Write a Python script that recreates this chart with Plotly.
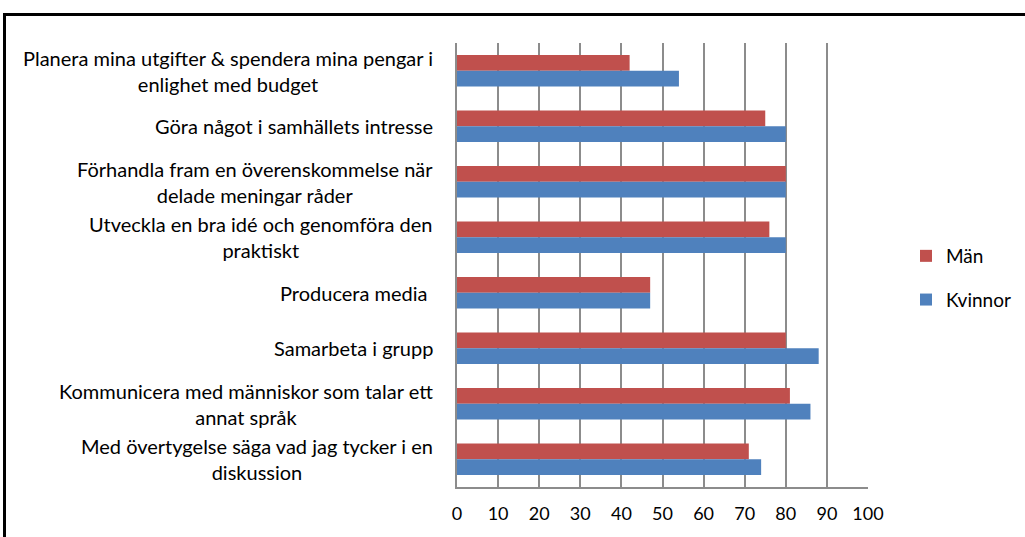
import plotly.graph_objects as go

categories = [
    "Planera mina utgifter & spendera mina pengar i<br>enlighet med budget",
    "Göra något i samhällets intresse",
    "Förhandla fram en överenskommelse när<br>delade meningar råder",
    "Utveckla en bra idé och genomföra den<br>praktiskt",
    "Producera media ",
    "Samarbeta i grupp",
    "Kommunicera med människor som talar ett<br>annat språk",
    "Med övertygelse säga vad jag tycker i en<br>diskussion",
]
man = [42, 75, 80, 76, 47, 80, 81, 71]
kvinnor = [54, 80, 80, 80, 47, 88, 86, 74]
tick_vals = [0, 10, 20, 30, 40, 50, 60, 70, 80, 90, 100]

FONT = "Lato"
ids = list(range(len(categories)))

fig = go.Figure()
fig.add_trace(go.Bar(y=ids, x=man, orientation="h", name="Män",
                     marker=dict(color="#C0504D", line=dict(width=0)),
                     legendgroup="m"))
fig.add_trace(go.Bar(y=ids, x=kvinnor, orientation="h", name="Kvinnor",
                     marker=dict(color="#4F81BD", line=dict(width=0)),
                     legendgroup="k"))

for i, c in zip(ids, categories):
    fig.add_annotation(x=0, xref="paper", y=i, yref="y", text=c,
                       xanchor="right", align="center", showarrow=False,
                       xshift=-22, font=dict(family=FONT, size=20, color="#000"))

L, R, T, B = 457, 868, 43, 487
W, H = 1025, 537
pw, ph = R - L, B - T

fig.update_layout(
    width=W, height=H,
    margin=dict(l=L, r=W - R, t=T, b=H - B),
    paper_bgcolor="white", plot_bgcolor="white",
    barmode="group", bargap=0.436, bargroupgap=0,
    font=dict(family=FONT, size=18, color="#000"),
    legend=dict(xref="container", x=906 / W, y=(B - 278) / ph,
                xanchor="left", yanchor="middle",
                font=dict(family=FONT, size=19), tracegroupgap=16,
                itemwidth=30, traceorder="grouped"),
    xaxis=dict(range=[0, 100], tickvals=tick_vals, showgrid=True,
               gridcolor="#8C8C8C", gridwidth=2, showline=True,
               linecolor="#8C8C8C", linewidth=2, zeroline=False,
               ticks="", ticklabelstandoff=9, fixedrange=True,
               tickfont=dict(family=FONT, size=18)),
    yaxis=dict(range=[len(categories) - 0.5, -0.5], showticklabels=False,
               showgrid=False, showline=True, linecolor="#8C8C8C",
               linewidth=2, zeroline=False, ticks=""),
    shapes=[dict(type="rect", xref="paper", yref="paper",
                 x0=(4.5 - L) / pw, x1=(1060 - L) / pw,
                 y0=(B - 570) / ph, y1=(B - 14.5) / ph,
                 line=dict(color="black", width=3), layer="above")],
)

fig.write_html("out.html", config={"displayModeBar": False},
               post_script="document.body.style.margin='0px';document.body.style.overflow='hidden';")
